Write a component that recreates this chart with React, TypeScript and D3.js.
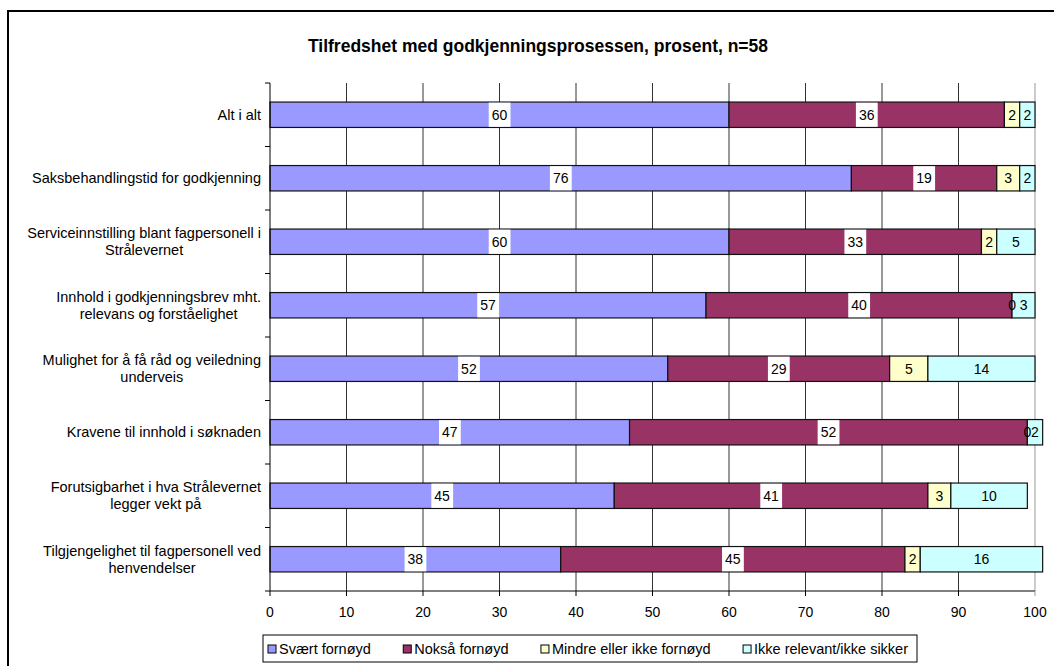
import React, { useEffect, useRef } from "react";
import * as d3 from "d3";

const categories: string[][] = [
  ["Alt i alt"],
  ["Saksbehandlingstid for godkjenning"],
  ["Serviceinnstilling blant fagpersonell i", "Strålevernet"],
  ["Innhold i godkjenningsbrev mht.", "relevans og forståelighet"],
  ["Mulighet for å få råd og veiledning", "underveis"],
  ["Kravene til innhold i søknaden"],
  ["Forutsigbarhet i hva Strålevernet", "legger vekt på"],
  ["Tilgjengelighet til fagpersonell ved", "henvendelser"],
];
const seriesNames = [
  "Svært fornøyd",
  "Nokså fornøyd",
  "Mindre eller ikke fornøyd",
  "Ikke relevant/ikke sikker",
];
const sværtFornøyd = [60, 76, 60, 57, 52, 47, 45, 38];
const nokså = [36, 19, 33, 40, 29, 52, 41, 45];
const mindre = [2, 3, 2, 0, 5, 0, 3, 2];
const ikkeRelevant = [2, 2, 5, 3, 14, 2, 10, 16];
const xTicks = [0, 10, 20, 30, 40, 50, 60, 70, 80, 90, 100];
const colors = ["#9999FF", "#993366", "#FFFFCC", "#CCFFFF"];
const title = "Tilfredshet med godkjenningsprosessen, prosent, n=58";

export default function App() {
  const ref = useRef<SVGSVGElement>(null);
  useEffect(() => {
    const svg = d3.select(ref.current);
    svg.selectAll("*").remove();
    const font = "Liberation Sans, Arial, sans-serif";
    const W = 1054, H = 666;
    const left = 270, right = 1035, top = 83, bottom = 591;

    svg.append("rect").attr("x", 8).attr("y", 11).attr("width", W + 20).attr("height", H + 20)
      .attr("fill", "white").attr("stroke", "black").attr("stroke-width", 2);

    svg.append("text").attr("x", 538).attr("y", 52).attr("text-anchor", "middle")
      .attr("font-family", font).attr("font-weight", "bold").attr("font-size", 17.5).text(title);

    const x = d3.scaleLinear().domain([0, 100]).range([left, right]);
    const idx = categories.map((_, i) => i);
    const y = d3.scaleBand<number>().domain(idx).range([top, bottom]).paddingInner(0.6).paddingOuter(0.3);
    const yb = d3.scaleBand<number>().domain(idx).range([top, bottom]);

    // gridlines
    const g = svg.append("g");
    xTicks.forEach((t) => {
      if (t === 0) return;
      g.append("line").attr("x1", x(t)).attr("x2", x(t)).attr("y1", top).attr("y2", bottom)
        .attr("stroke", t === 100 ? "#999" : "#333").attr("stroke-width", 1);
    });

    const rows = idx.map((i) => ({ i, a: sværtFornøyd[i], b: nokså[i], c: mindre[i], d: ikkeRelevant[i] }));
    const keys = ["a", "b", "c", "d"];
    const stacked = d3.stack<any>().keys(keys)(rows);

    stacked.forEach((layer, k) => {
      layer.forEach((s: any) => {
        const i = s.data.i;
        const x0 = x(s[0]), x1 = x(s[1]);
        if (s[1] - s[0] > 0) {
          svg.append("rect").attr("x", x0).attr("y", y(i)!).attr("width", x1 - x0)
            .attr("height", y.bandwidth()).attr("fill", colors[k]).attr("stroke", "#111").attr("stroke-width", 1.2);
        }
      });
    });
    stacked.forEach((layer, k) => {
      layer.forEach((s: any) => {
        const i = s.data.i;
        const v = s[1] - s[0];
        const cx = x((s[0] + s[1]) / 2);
        const cy = y(i)! + y.bandwidth() / 2;
        const t = svg.append("text").attr("x", cx).attr("y", cy + 5).attr("text-anchor", "middle")
          .attr("font-family", font).attr("font-size", 14).text(String(v));
        if (k < 2) {
          const bb = (t.node() as SVGTextElement).getBBox();
          svg.insert("rect", () => t.node() as any).attr("x", bb.x - 3).attr("y", y(i)! + 0.6)
            .attr("width", bb.width + 6).attr("height", y.bandwidth() - 1.2).attr("fill", "white");
        }
      });
    });

    // axes
    svg.append("line").attr("x1", left).attr("x2", left).attr("y1", top).attr("y2", bottom).attr("stroke", "black");
    svg.append("line").attr("x1", left - 5).attr("x2", right).attr("y1", bottom).attr("y2", bottom).attr("stroke", "black");
    idx.forEach((i) => {
      svg.append("line").attr("x1", left - 5).attr("x2", left).attr("y1", yb(i)!).attr("y2", yb(i)!).attr("stroke", "black");
    });
    xTicks.forEach((t) => {
      svg.append("line").attr("x1", x(t)).attr("x2", x(t)).attr("y1", bottom).attr("y2", bottom + 5)
        .attr("stroke", t === 100 ? "#999" : "black");
      svg.append("text").attr("x", x(t)).attr("y", 617).attr("text-anchor", "middle")
        .attr("font-family", font).attr("font-size", 14).text(String(t));
    });

    // category labels
    categories.forEach((lines, i) => {
      const cy = y(i)! + y.bandwidth() / 2;
      const txt = svg.append("text").attr("font-family", font).attr("font-size", 14.5).attr("text-anchor", "middle");
      const spans = lines.map((l) => txt.append("tspan").text(l));
      const w = d3.max(spans.map((s) => (s.node() as SVGTSpanElement).getComputedTextLength()))!;
      const cx = 261 - w / 2;
      const n = lines.length;
      spans.forEach((s, j) => {
        s.attr("x", cx).attr("y", cy + 5 + (j - (n - 1) / 2) * 17);
      });
    });

    // legend
    svg.append("rect").attr("x", 263).attr("y", 635).attr("width", 654).attr("height", 27)
      .attr("fill", "white").attr("stroke", "black");
    const texts = seriesNames.map((n) =>
      svg.append("text").attr("y", 654).attr("font-family", font).attr("font-size", 14.5).text(n)
    );
    const widths = texts.map((t) => (t.node() as SVGTextElement).getComputedTextLength());
    const startX = 268, endX = 908;
    const itemW = widths.map((w) => 11 + w);
    const gap = (endX - startX - d3.sum(itemW)) / (seriesNames.length - 1);
    let cur = startX;
    seriesNames.forEach((_, k) => {
      svg.append("rect").attr("x", cur).attr("y", 645).attr("width", 8).attr("height", 8)
        .attr("fill", colors[k]).attr("stroke", "black");
      texts[k].attr("x", cur + 11);
      cur += itemW[k] + gap;
    });
  }, []);
  return (
    <svg ref={ref} width={1054} height={666} style={{ position: "absolute", left: 0, top: 0 }} />
  );
}
